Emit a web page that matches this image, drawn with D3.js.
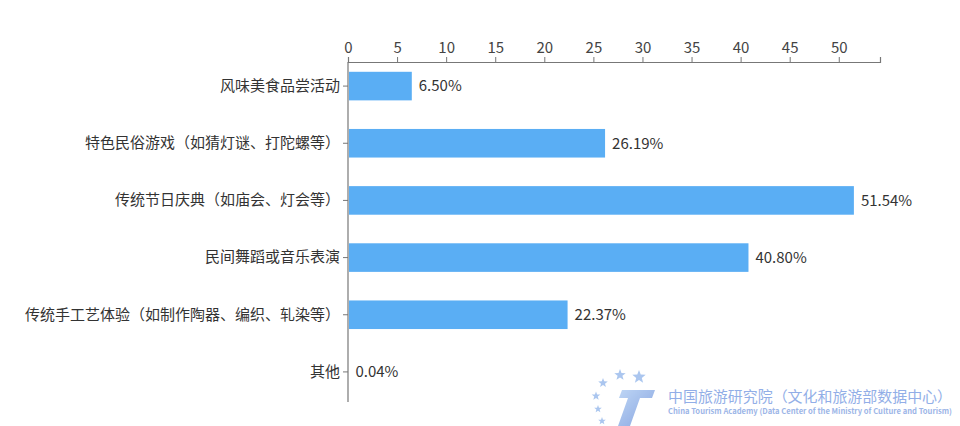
<!DOCTYPE html>
<html><head><meta charset="utf-8">
<script src="https://cdn.jsdelivr.net/npm/d3@7/dist/d3.min.js"></script>
<style>body{margin:0;background:#fff}svg{display:block}text{font-family:"Noto Sans CJK SC","Noto Sans",sans-serif}</style>
</head><body>
<svg id="c" width="960" height="426"></svg>
<script>
const categories = ["风味美食品尝活动","特色民俗游戏（如猜灯谜、打陀螺等）","传统节日庆典（如庙会、灯会等）","民间舞蹈或音乐表演","传统手工艺体验（如制作陶器、编织、轧染等）","其他"];
const values = [6.50, 26.19, 51.54, 40.80, 22.37, 0.04];
const valueLabels = ["6.50%","26.19%","51.54%","40.80%","22.37%","0.04%"];
const xTicks = [0,5,10,15,20,25,30,35,40,45,50];

const svg = d3.select("#c");
const m = {l:348, t:62, r:880, b:402};
const x = d3.scaleLinear().domain([0,54.2]).range([m.l, m.r]);
const y = d3.scaleBand().domain(categories).range([57.5, 400.5]).paddingInner(0.5).paddingOuter(0.25);

const gx = svg.append("g").attr("transform",`translate(0,${m.t})`)
  .call(d3.axisTop(x).tickValues(xTicks).tickSize(5).tickPadding(4));
gx.select(".domain").attr("stroke","#777").attr("stroke-width",1.2);
gx.selectAll(".tick line").attr("stroke","#777");
gx.selectAll(".tick text").attr("fill","#444").attr("font-size",15);

const gy = svg.append("g").attr("transform",`translate(${m.l},0)`)
  .call(d3.axisLeft(y).tickSize(5).tickPadding(3).tickSizeOuter(0));
gy.select(".domain").remove();
gy.append("line").attr("x1",0).attr("x2",0).attr("y1",m.t).attr("y2",m.b).attr("stroke","#777").attr("stroke-width",1.2);
gy.selectAll(".tick line").attr("stroke","#777");
gy.selectAll(".tick text").attr("fill","#333").attr("font-size",15);

svg.append("g").selectAll("rect").data(values).join("rect")
  .attr("x", x(0)+1).attr("y",(d,i)=>y(categories[i]))
  .attr("width",d=>Math.max(0,x(d)-x(0)-1)).attr("height",y.bandwidth())
  .attr("fill","#5aaef4");

svg.append("g").selectAll("text").data(values).join("text")
  .attr("x",d=>x(d)+7).attr("y",(d,i)=>y(categories[i])+y.bandwidth()/2)
  .attr("dy","0.35em").attr("font-size",15).attr("fill","#333")
  .text((d,i)=>valueLabels[i]);

// watermark logo
const wm = svg.append("g").attr("opacity",0.75);
function star(cx,cy,r){
  const pts=[];for(let k=0;k<10;k++){const a=-Math.PI/2+k*Math.PI/5;const rr=k%2?r*0.42:r;pts.push([cx+rr*Math.cos(a),cy+rr*Math.sin(a)]);}
  return "M"+pts.map(p=>p.join(",")).join("L")+"Z";
}
[[603,383,5],[620,375,6],[639,377,7],[596,396,4.5],[598,409,4],[602,421,4]].forEach(s=>
  wm.append("path").attr("d",star(s[0],s[1],s[2])).attr("fill","#8fb4ea"));
const grad = svg.append("defs").append("linearGradient").attr("id","tg").attr("x1","0").attr("y1","0").attr("x2","1").attr("y2","1");
grad.append("stop").attr("offset","0").attr("stop-color","#a8c8f2");
grad.append("stop").attr("offset","1").attr("stop-color","#5f86d6");
wm.append("path").attr("d","M622,390 L655,390 L652,398 L640,398 L630,426 L618,426 L628,398 L619,398 Z").attr("fill","url(#tg)");
wm.append("text").attr("x",668).attr("y",402).attr("font-size",14.5).attr("fill","#6e94e0").attr("textLength",284).attr("lengthAdjust","spacingAndGlyphs").text("中国旅游研究院（文化和旅游部数据中心）");
wm.append("text").attr("x",668).attr("y",414).attr("font-size",7.6).attr("font-weight","bold").attr("fill","#7c9de0").attr("font-family","Liberation Sans, sans-serif").attr("textLength",284).attr("lengthAdjust","spacingAndGlyphs").text("China Tourism Academy (Data Center of the Ministry of Culture and Tourism)");
</script>
</body></html>
